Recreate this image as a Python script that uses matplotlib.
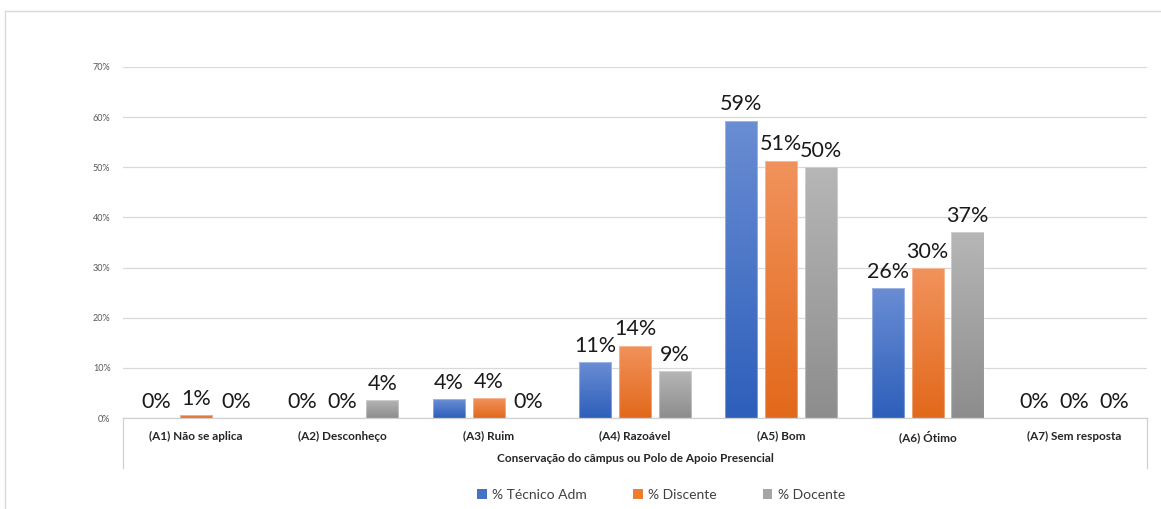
import numpy as np
import matplotlib
matplotlib.use("Agg")
import matplotlib.pyplot as plt
from matplotlib.lines import Line2D
from matplotlib.colors import LinearSegmentedColormap
from matplotlib.patches import Patch

categories = ["(A1) Não se aplica", "(A2) Desconheço", "(A3) Ruim", "(A4) Razoável",
              "(A5) Bom", "(A6) Ótimo", "(A7) Sem resposta"]
series_names = ["% Técnico Adm", "% Discente", "% Docente"]
tecnico = [0.0, 0.0, 3.7, 11.1, 59.3, 25.9, 0.0]
discente = [0.6, 0.0, 3.9, 14.4, 51.3, 29.9, 0.0]
docente = [0.0, 3.6, 0.0, 9.3, 50.0, 37.0, 0.0]
yticks = [0, 10, 20, 30, 40, 50, 60, 70]
xlabel = "Conservação do câmpus ou Polo de Apoio Presencial"

series = [tecnico, discente, docente]
grad = [("#6a8dd3", "#2d5fbb"), ("#f1925c", "#e2691b"), ("#b6b6b6", "#8d8d8d")]
solid = ["#4472c4", "#ed7d31", "#a5a5a5"]

plt.rcParams['font.family'] = ['Lato', 'DejaVu Sans']

W, H = 1161, 509
fig = plt.figure(figsize=(W / 100, H / 100), dpi=100)
ax = fig.add_axes([123 / W, 1 - 418 / H, (1147 - 123) / W, (418 - 67) / H])

x = np.arange(len(categories))
bw = 0.219
step = 0.273
for i, (vals, (ctop, cbot)) in enumerate(zip(series, grad)):
    bars = ax.bar(x + (i - 1) * step, vals, width=bw, color=solid[i],
                  edgecolor="none", zorder=2)
    cmap = LinearSegmentedColormap.from_list("g%d" % i, [cbot, ctop])
    for b, v in zip(bars, vals):
        if v > 0:
            x0, y0 = b.get_x(), b.get_y()
            w, h = b.get_width(), b.get_height()
            im = ax.imshow(np.linspace(0, 1, 100).reshape(-1, 1), cmap=cmap,
                           aspect="auto", origin="lower",
                           extent=[x0, x0 + w, y0, y0 + h], zorder=2.5)
            im.set_clip_path(b)
            b.set_alpha(0)
            ax.add_patch(plt.Rectangle((x0, y0), w, h, fill=False,
                                       edgecolor="white", lw=0.8, alpha=0.35,
                                       zorder=3))
        ax.annotate("%d%%" % int(round(v)), (b.get_x() + b.get_width() / 2, v),
                    xytext=(0, 7.5), textcoords="offset points",
                    ha="center", va="baseline", fontsize=15.5, color="#1a1a1a",
                    zorder=4)

ax.set_xlim(-0.5, len(categories) - 0.5)
ax.set_ylim(0, 70)
ax.set_yticks(yticks)
ax.set_yticklabels(["%d%%" % t for t in yticks], fontsize=6.5, color="#595959")
ax.yaxis.grid(True, color="#d9d9d9", lw=0.9, zorder=0)
ax.set_axisbelow(True)
ax.tick_params(axis="y", length=0, pad=9)
ax.set_xticks(x)
ax.set_xticklabels(categories, fontsize=8.5, fontweight="bold", color="#262626")
ax.tick_params(axis="x", length=0, pad=9)
for s in ["top", "right", "left"]:
    ax.spines[s].set_visible(False)
ax.spines["bottom"].set_color("#d0d0d0")
ax.spines["bottom"].set_linewidth(0.9)
ax.set_xlabel(xlabel, fontsize=8.5, fontweight="bold", color="#262626", labelpad=7)

for px in (123, 1147):
    fig.add_artist(Line2D([px / W, px / W], [1 - 418 / H, 1 - 468 / H],
                          color="#d0d0d0", lw=0.9))
fig.add_artist(Line2D([5 / W, 1.0], [1 - 11 / H, 1 - 11 / H], color="#d9d9d9", lw=1.0))
fig.add_artist(Line2D([5 / W, 5 / W], [0, 1 - 11 / H], color="#d9d9d9", lw=1.0))

handles = [Patch(facecolor=c, edgecolor="none") for c in solid]
fig.legend(handles, series_names, loc="center", bbox_to_anchor=(661 / W, 1 - 495 / H),
           ncol=3, frameon=False, fontsize=10, handlelength=0.7, handleheight=0.7,
           handletextpad=0.4, columnspacing=3.3, labelcolor="#404040")

fig.savefig("out.png", dpi=100)
